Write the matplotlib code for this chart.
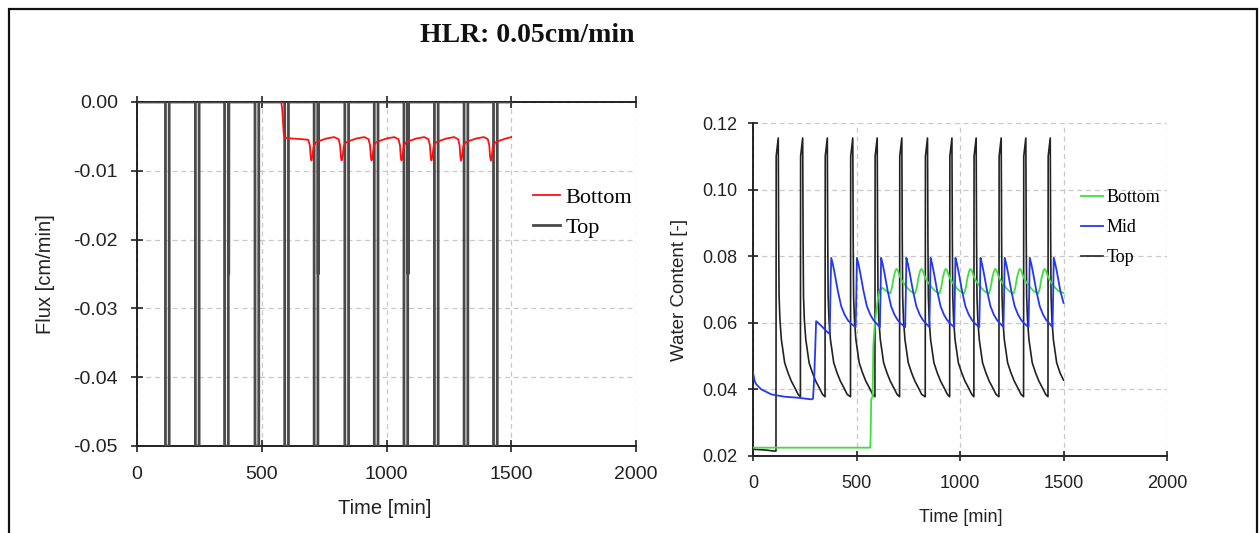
import matplotlib
matplotlib.use('Agg')
import matplotlib.pyplot as plt
from matplotlib.patches import Rectangle

plt.rcParams['axes.unicode_minus'] = False
plt.rcParams['font.family'] = ['Liberation Sans', 'DejaVu Sans']

# ---------------- data: left panel (flux) ----------------
flux_top_time = [0, 114, 114, 129, 129, 234, 234, 249, 249,
                 351, 351, 366, 366, 367.5, 367.5, 368,
                 473, 473, 488, 488, 592, 592, 607, 607,
                 710, 710, 725, 725, 726.5, 726.5, 727,
                 833, 833, 848, 848, 951, 951, 966, 966,
                 1070, 1070, 1085, 1085, 1086.5, 1086.5, 1087,
                 1192, 1192, 1207, 1207, 1311, 1311, 1326, 1326,
                 1429, 1429, 1444, 1444, 1500]
flux_top_val = [0, 0, -0.05, -0.05, 0, 0, -0.05, -0.05, 0,
                0, -0.05, -0.05, 0, 0, -0.025, 0,
                0, -0.05, -0.05, 0, 0, -0.05, -0.05, 0,
                0, -0.05, -0.05, 0, 0, -0.025, 0,
                0, -0.05, -0.05, 0, 0, -0.05, -0.05, 0,
                0, -0.05, -0.05, 0, 0, -0.025, 0,
                0, -0.05, -0.05, 0, 0, -0.05, -0.05, 0,
                0, -0.05, -0.05, 0, 0]

flux_bot_time = [578, 582, 585, 588, 592, 620, 660,
                 687, 693, 696, 699, 703, 708, 716, 735, 760, 790,
                 808, 814, 817, 820, 824, 829, 837, 856, 881, 911,
                 928, 934, 937, 940, 944, 949, 957, 976, 1001, 1031,
                 1048, 1054, 1057, 1060, 1064, 1069, 1077, 1096, 1121, 1151,
                 1168, 1174, 1177, 1180, 1184, 1189, 1197, 1216, 1241, 1271,
                 1287, 1293, 1296, 1299, 1303, 1308, 1316, 1335, 1360, 1390,
                 1406, 1412, 1415, 1418, 1422, 1427, 1435, 1454, 1479, 1500]
flux_bot_val = [0.0, -0.0010, -0.0028, -0.0046, -0.0052, -0.0053, -0.0054,
                -0.0055, -0.0064, -0.0079, -0.0085, -0.0079, -0.0065, -0.0059, -0.0056, -0.0053, -0.0051,
                -0.0054, -0.0063, -0.0079, -0.0085, -0.0079, -0.0064, -0.0059, -0.0056, -0.0053, -0.0051,
                -0.0054, -0.0063, -0.0079, -0.0085, -0.0079, -0.0064, -0.0059, -0.0056, -0.0053, -0.0051,
                -0.0054, -0.0063, -0.0079, -0.0085, -0.0079, -0.0064, -0.0059, -0.0056, -0.0053, -0.0051,
                -0.0054, -0.0063, -0.0079, -0.0085, -0.0079, -0.0064, -0.0059, -0.0056, -0.0053, -0.0051,
                -0.0054, -0.0063, -0.0079, -0.0085, -0.0079, -0.0064, -0.0059, -0.0056, -0.0053, -0.0051,
                -0.0054, -0.0063, -0.0079, -0.0085, -0.0079, -0.0064, -0.0059, -0.0056, -0.0053, -0.0051]

# ---------------- data: right panel (water content) ----------------
wc_top_time = [0, 5, 60, 100,
               111, 112, 122, 124, 126, 130, 137, 153, 169, 185, 202, 218,
               229, 230, 240, 242, 244, 248, 255, 271, 287, 303, 320, 336,
               348, 349, 359, 361, 363, 367, 374, 390, 406, 422, 439, 455,
               471, 472, 482, 484, 486, 490, 497, 513, 529, 545, 562, 578,
               589, 590, 600, 602, 604, 608, 615, 631, 647, 663, 680, 696,
               708, 709, 719, 721, 723, 727, 734, 750, 766, 782, 799, 815,
               832, 833, 843, 845, 847, 851, 858, 874, 890, 906, 923, 939,
               950, 951, 961, 963, 965, 969, 976, 992, 1008, 1024, 1041, 1057,
               1067, 1068, 1078, 1080, 1082, 1086, 1093, 1109, 1125, 1141, 1158, 1174,
               1188, 1189, 1199, 1201, 1203, 1207, 1214, 1230, 1246, 1262, 1279, 1295,
               1307, 1308, 1318, 1320, 1322, 1326, 1333, 1349, 1365, 1381, 1398, 1414,
               1425, 1426, 1436, 1438, 1440, 1444, 1451, 1467, 1483, 1500]
wc_top_val = [0.0225, 0.0220, 0.0218, 0.0215,
              0.0215, 0.110, 0.1155, 0.085, 0.068, 0.061, 0.055, 0.048, 0.045, 0.0425, 0.0405, 0.0385,
              0.0378, 0.110, 0.1155, 0.085, 0.068, 0.061, 0.055, 0.048, 0.045, 0.0425, 0.0405, 0.0385,
              0.0378, 0.110, 0.1155, 0.085, 0.068, 0.061, 0.055, 0.048, 0.045, 0.0425, 0.0405, 0.0385,
              0.0378, 0.110, 0.1155, 0.085, 0.068, 0.061, 0.055, 0.048, 0.045, 0.0425, 0.0405, 0.0385,
              0.0378, 0.110, 0.1155, 0.085, 0.068, 0.061, 0.055, 0.048, 0.045, 0.0425, 0.0405, 0.0385,
              0.0378, 0.110, 0.1155, 0.085, 0.068, 0.061, 0.055, 0.048, 0.045, 0.0425, 0.0405, 0.0385,
              0.0378, 0.110, 0.1155, 0.085, 0.068, 0.061, 0.055, 0.048, 0.045, 0.0425, 0.0405, 0.0385,
              0.0378, 0.110, 0.1155, 0.085, 0.068, 0.061, 0.055, 0.048, 0.045, 0.0425, 0.0405, 0.0385,
              0.0378, 0.110, 0.1155, 0.085, 0.068, 0.061, 0.055, 0.048, 0.045, 0.0425, 0.0405, 0.0385,
              0.0378, 0.110, 0.1155, 0.085, 0.068, 0.061, 0.055, 0.048, 0.045, 0.0425, 0.0405, 0.0385,
              0.0378, 0.110, 0.1155, 0.085, 0.068, 0.061, 0.055, 0.048, 0.045, 0.0425, 0.0405, 0.0385,
              0.0378, 0.110, 0.1155, 0.085, 0.068, 0.061, 0.055, 0.048, 0.045, 0.0428]

wc_mid_time = [0, 8, 16, 40, 89, 153, 218, 282, 290, 296, 301, 305, 323, 347, 366, 370, 372, 375,
               378, 386, 394, 410, 426, 442, 458, 474, 496, 499,
               502, 510, 518, 534, 550, 566, 582, 598, 613, 616,
               619, 627, 635, 651, 667, 683, 699, 715, 735, 738,
               741, 749, 757, 773, 789, 805, 821, 837, 852, 855,
               858, 866, 874, 890, 906, 922, 938, 954, 972, 975,
               978, 986, 994, 1010, 1026, 1042, 1058, 1074, 1093, 1096,
               1099, 1107, 1115, 1131, 1147, 1163, 1179, 1195, 1210, 1213,
               1216, 1224, 1232, 1248, 1264, 1280, 1296, 1312, 1331, 1334,
               1337, 1345, 1353, 1369, 1385, 1401, 1417, 1433, 1447, 1450,
               1453, 1461, 1469, 1485, 1500]
wc_mid_val = [0.045, 0.0425, 0.0415, 0.040, 0.0385, 0.0378, 0.0375, 0.0370, 0.0372, 0.044, 0.053, 0.0605,
              0.0595, 0.058, 0.0568, 0.0572, 0.061, 0.072,
              0.0795, 0.0775, 0.075, 0.0695, 0.065, 0.0625, 0.0608, 0.0597, 0.0587, 0.068,
              0.0795, 0.0775, 0.075, 0.0695, 0.065, 0.0625, 0.0608, 0.0597, 0.0587, 0.068,
              0.0795, 0.0775, 0.075, 0.0695, 0.065, 0.0625, 0.0608, 0.0597, 0.0587, 0.068,
              0.0795, 0.0775, 0.075, 0.0695, 0.065, 0.0625, 0.0608, 0.0597, 0.0587, 0.068,
              0.0795, 0.0775, 0.075, 0.0695, 0.065, 0.0625, 0.0608, 0.0597, 0.0587, 0.068,
              0.0795, 0.0775, 0.075, 0.0695, 0.065, 0.0625, 0.0608, 0.0597, 0.0587, 0.068,
              0.0795, 0.0775, 0.075, 0.0695, 0.065, 0.0625, 0.0608, 0.0597, 0.0587, 0.068,
              0.0795, 0.0775, 0.075, 0.0695, 0.065, 0.0625, 0.0608, 0.0597, 0.0587, 0.068,
              0.0795, 0.0775, 0.075, 0.0695, 0.065, 0.0625, 0.0608, 0.0597, 0.0587, 0.068,
              0.0795, 0.0775, 0.075, 0.0695, 0.066]

wc_bot_time = [0, 566, 568, 571, 578, 581, 589, 597, 605, 613, 625, 640,
               663, 671, 679, 687, 693, 699, 708, 718, 733, 748, 763,
               783, 791, 799, 807, 813, 819, 828, 838, 853, 868, 883,
               901, 909, 917, 925, 931, 937, 946, 956, 971, 986, 1001,
               1020, 1028, 1036, 1044, 1050, 1056, 1065, 1075, 1090, 1105, 1120,
               1140, 1148, 1156, 1164, 1170, 1176, 1185, 1195, 1210, 1225, 1240,
               1259, 1267, 1275, 1283, 1289, 1295, 1304, 1314, 1329, 1344, 1359,
               1378, 1386, 1394, 1402, 1408, 1414, 1423, 1433, 1448, 1463, 1478, 1500]
wc_bot_val = [0.0225, 0.0225, 0.025, 0.037, 0.038, 0.053, 0.060, 0.064, 0.068, 0.070, 0.0705, 0.0697,
              0.0688, 0.0705, 0.0735, 0.0755, 0.0762, 0.0758, 0.0742, 0.0728, 0.0715, 0.0703, 0.0694,
              0.0688, 0.0705, 0.0735, 0.0755, 0.0762, 0.0758, 0.0742, 0.0728, 0.0715, 0.0703, 0.0694,
              0.0688, 0.0705, 0.0735, 0.0755, 0.0762, 0.0758, 0.0742, 0.0728, 0.0715, 0.0703, 0.0694,
              0.0688, 0.0705, 0.0735, 0.0755, 0.0762, 0.0758, 0.0742, 0.0728, 0.0715, 0.0703, 0.0694,
              0.0688, 0.0705, 0.0735, 0.0755, 0.0762, 0.0758, 0.0742, 0.0728, 0.0715, 0.0703, 0.0694,
              0.0688, 0.0705, 0.0735, 0.0755, 0.0762, 0.0758, 0.0742, 0.0728, 0.0715, 0.0703, 0.0694,
              0.0688, 0.0705, 0.0735, 0.0755, 0.0762, 0.0758, 0.0742, 0.0728, 0.0715, 0.0703, 0.0694, 0.0690]

x_ticks = [0, 500, 1000, 1500, 2000]
flux_ticks = [0.00, -0.01, -0.02, -0.03, -0.04, -0.05]
wc_ticks = [0.02, 0.04, 0.06, 0.08, 0.10, 0.12]

# ---------------- figure ----------------
W, H = 1259, 533
fig = plt.figure(figsize=(W / 100, H / 100), dpi=100)


def fx(px):
    return px / W


def fy(py):
    return 1 - py / H


ax1 = fig.add_axes([fx(137), fy(446), (636 - 137) / W, (446 - 102) / H])
ax2 = fig.add_axes([fx(753), fy(456), (1167 - 753) / W, (456 - 123) / H])

grid_kw = dict(color='#c8c8c8', linestyle=(0, (4, 3)), linewidth=0.9)
tick_col = '#222222'

# left panel
l_bot, = ax1.plot(flux_bot_time, flux_bot_val, color='#ff1010', lw=1.3, label='Bottom', zorder=4)
l_top, = ax1.plot(flux_top_time, flux_top_val, color='#4a4a4a', lw=2.0, label='Top', zorder=3)
ax1.set_xlim(0, 2000)
ax1.set_ylim(-0.05, 0)
ax1.set_xticks(x_ticks)
ax1.set_xticklabels([str(v) for v in x_ticks])
ax1.set_yticks(flux_ticks)
ax1.set_yticklabels(['%.2f' % v if v != 0 else '0.00' for v in flux_ticks])
ax1.grid(True, **grid_kw)
ax1.set_axisbelow(True)
for s in ['left', 'bottom', 'top']:
    ax1.spines[s].set_color('#222222')
    ax1.spines[s].set_linewidth(1.4)
ax1.spines['right'].set_visible(False)
ax1.tick_params(axis='both', direction='inout', length=9, width=1.2, colors=tick_col, labelsize=14)
ax1.tick_params(axis='x', top=True, pad=9.9)
ax1.tick_params(axis='y', pad=9.2)
ax1.set_ylabel('Flux [cm/min]', fontsize=14.5, color=tick_col)
ax1.yaxis.set_label_coords(-0.164, 0.5)
ax1.set_xlabel('Time [min]', fontsize=14.5, color=tick_col)
ax1.xaxis.set_label_coords(0.496, -0.155)
legend_top = fig.legend(handles=[l_bot, l_top], loc='upper left',
                        bbox_to_anchor=(fx(533), fy(187)), bbox_transform=fig.transFigure,
                        frameon=False, prop={'family': 'Liberation Serif', 'size': 16},
                        handlelength=1.2, handletextpad=0.27, labelspacing=0.43,
                        borderpad=0, borderaxespad=0)

# right panel
r_bot, = ax2.plot(wc_bot_time, wc_bot_val, color='#3ee03e', lw=1.3, label='Bottom', zorder=3)
r_mid, = ax2.plot(wc_mid_time, wc_mid_val, color='#2438f0', lw=1.3, label='Mid', zorder=4)
r_top, = ax2.plot(wc_top_time, wc_top_val, color='#222222', lw=1.2, label='Top', zorder=2)
ax2.set_xlim(0, 2000)
ax2.set_ylim(0.02, 0.12)
ax2.set_xticks(x_ticks)
ax2.set_xticklabels([str(v) for v in x_ticks])
ax2.set_yticks(wc_ticks)
ax2.set_yticklabels(['%.2f' % v for v in wc_ticks])
ax2.grid(True, **grid_kw)
ax2.set_axisbelow(True)
for s in ['left', 'bottom']:
    ax2.spines[s].set_color('#222222')
    ax2.spines[s].set_linewidth(1.4)
ax2.spines['right'].set_visible(False)
ax2.spines['top'].set_visible(False)
ax2.tick_params(axis='both', direction='inout', length=7, width=1.2, colors=tick_col, labelsize=13)
ax2.tick_params(axis='x', pad=10.2)
ax2.tick_params(axis='y', pad=8)
ax2.set_ylabel('Water Content [-]', fontsize=13.5, color=tick_col)
ax2.yaxis.set_label_coords(-0.157, 0.5)
ax2.set_xlabel('Time [min]', fontsize=13, color=tick_col)
ax2.xaxis.set_label_coords(0.502, -0.159)
legend_wc = fig.legend(handles=[r_bot, r_mid, r_top], loc='upper left',
                       bbox_to_anchor=(fx(1081), fy(189)), bbox_transform=fig.transFigure,
                       frameon=False, prop={'family': 'Liberation Serif', 'size': 13},
                       handlelength=1.2, handletextpad=0.22, labelspacing=0.72,
                       borderpad=0, borderaxespad=0)

# title and frame
fig.text(fx(527), fy(35), 'HLR: 0.05cm/min', family='Liberation Serif', fontweight='bold',
         fontsize=20, ha='center', va='center', color='#111111')
fig.add_artist(Rectangle((fx(9), -0.05), fx(1257) - fx(9), fy(9) + 0.05,
                         transform=fig.transFigure, fill=False, edgecolor='#111111',
                         linewidth=1.6, clip_on=False))

fig.savefig('out.png', dpi=100, facecolor='white')
